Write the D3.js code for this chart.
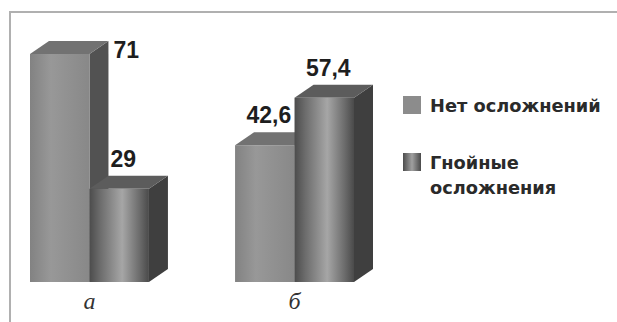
<!DOCTYPE html>
<html>
<head>
<meta charset="utf-8">
<script src="https://cdn.jsdelivr.net/npm/d3@7"></script>
<style>
body { margin: 0; background: #fff; }
</style>
</head>
<body>
<svg width="617" height="322"></svg>
<script>
var categories = ["а", "б"];
var seriesNames = ["Нет осложнений", "Гнойные осложнения"];
var noComplications = [71, 42.6];
var purulent = [29, 57.4];

var svg = d3.select("svg"),
    depth = {dx: 19, dy: -13},
    plot = {left: 30, right: 354, top: 54, bottom: 282};

var ru = d3.formatLocale({decimal: ",", thousands: " ", grouping: [3], currency: ["", ""]});
var fmt = ru.format("~g");

var data = categories.map(function(c, i) {
    return {cat: c, values: [noComplications[i], purulent[i]]};
});

var x0 = d3.scaleBand()
    .domain(categories)
    .range([plot.left, plot.right])
    .paddingInner(0.42);

var x1 = d3.scaleBand()
    .domain([0, 1])
    .range([0, x0.bandwidth()]);

var y = d3.scaleLinear()
    .domain([0, d3.max(noComplications.concat(purulent))])
    .range([plot.bottom, plot.top]);

// рамка
svg.append("path")
    .attr("d", "M10,322 V12 H617")
    .attr("fill", "none")
    .attr("stroke", "#b0b0b0")
    .attr("stroke-width", 2);

// градиенты
var defs = svg.append("defs");
function grad(id, stops) {
    var g = defs.append("linearGradient").attr("id", id)
        .attr("x1", "0%").attr("x2", "100%").attr("y1", "0%").attr("y2", "0%");
    stops.forEach(function(s) {
        g.append("stop").attr("offset", s[0]).attr("stop-color", s[1]);
    });
}
grad("front0", [["0%", "#828282"], ["35%", "#989898"], ["100%", "#888888"]]);
grad("front1", [["0%", "#4c4c4c"], ["18%", "#6c6c6c"], ["55%", "#a6a6a6"], ["85%", "#6a6a6a"], ["100%", "#4a4a4a"]]);
grad("leg1", [["0%", "#4c4c4c"], ["50%", "#a0a0a0"], ["100%", "#4a4a4a"]]);

var faces = [
    {front: "url(#front0)", top: "#727272", side: "#525252"},
    {front: "url(#front1)", top: "#5c5c5c", side: "#3f3f3f"}
];

var group = svg.selectAll(".grp")
    .data(data)
    .enter().append("g")
    .attr("class", "grp")
    .attr("transform", function(d) { return "translate(" + x0(d.cat) + ",0)"; });

var bar = group.selectAll(".bar")
    .data(function(d) { return d.values.map(function(v, i) { return {v: v, s: i}; }); })
    .enter().append("g")
    .attr("class", "bar");

bar.each(function(d) {
    var b = d3.select(this),
        xl = x1(d.s), xr = xl + x1.bandwidth(),
        yt = y(d.v), yb = y(0),
        dx = depth.dx, dy = depth.dy;
    // бок
    b.append("path")
        .attr("d", "M" + xr + "," + yt + "L" + (xr + dx) + "," + (yt + dy) +
            "L" + (xr + dx) + "," + (yb + dy) + "L" + xr + "," + yb + "Z")
        .attr("fill", faces[d.s].side);
    // верх
    b.append("path")
        .attr("d", "M" + xl + "," + yt + "L" + (xl + dx) + "," + (yt + dy) +
            "L" + (xr + dx) + "," + (yt + dy) + "L" + xr + "," + yt + "Z")
        .attr("fill", faces[d.s].top);
    // фасад
    b.append("rect")
        .attr("x", xl)
        .attr("y", yt)
        .attr("width", x1.bandwidth())
        .attr("height", yb - yt)
        .attr("fill", faces[d.s].front);
});

// подписи значений
var capH = 17;
bar.append("text")
    .style("font", "bold 23px 'Liberation Sans', Arial, sans-serif")
    .attr("fill", "#1e1e1e")
    .each(function(d) {
        var t = d3.select(this),
            xl = x1(d.s), xr = xl + x1.bandwidth(),
            yTop = y(d.v) + depth.dy;
        if (yTop - 9 - capH < 20) {
            // не помещается сверху — справа от столбика
            t.attr("x", xr + depth.dx + 5).attr("y", yTop + capH).attr("text-anchor", "start");
        } else {
            t.attr("x", (xl + xr) / 2 + 4).attr("y", yTop - 9).attr("text-anchor", "middle");
        }
    })
    .text(function(d) { return fmt(d.v); });

// подписи категорий
svg.selectAll(".cat")
    .data(categories)
    .enter().append("text")
    .attr("class", "cat")
    .attr("x", function(d) { return x0(d) + x0.bandwidth() / 2; })
    .attr("y", 309)
    .attr("text-anchor", "middle")
    .style("font", "italic 24px 'Liberation Serif', 'DejaVu Serif', serif")
    .attr("fill", "#333")
    .text(function(d) { return d; });

// легенда
var legend = svg.selectAll(".legend")
    .data(seriesNames)
    .enter().append("g")
    .attr("class", "legend")
    .attr("transform", function(d, i) { return "translate(403," + (96 + i * 57) + ")"; });

legend.append("rect")
    .attr("width", 18)
    .attr("height", 18)
    .attr("fill", function(d, i) { return i ? "url(#leg1)" : "#8c8c8c"; });

legend.append("text")
    .attr("x", 27)
    .attr("y", 16)
    .attr("fill", "#2a2a2a")
    .style("font", "bold 17.8px 'DejaVu Sans', Verdana, sans-serif")
    .each(function(d, i) {
        var words = i ? d.split(" ") : [d];
        var t = d3.select(this);
        words.forEach(function(w, k) {
            t.append("tspan").attr("x", 27).attr("dy", k ? 25 : 0).text(w);
        });
    });
</script>
</body>
</html>
